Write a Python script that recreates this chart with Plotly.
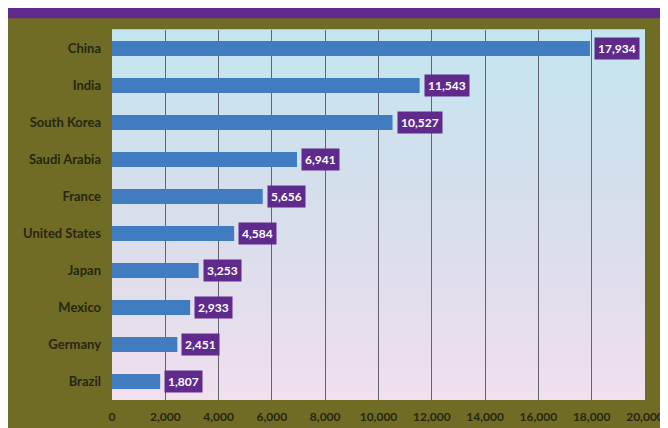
import plotly.graph_objects as go

countries = ["China", "India", "South Korea", "Saudi Arabia", "France",
             "United States", "Japan", "Mexico", "Germany", "Brazil"]
values = [17934, 11543, 10527, 6941, 5656, 4584, 3253, 2933, 2451, 1807]
tick_vals = [0, 2000, 4000, 6000, 8000, 10000, 12000, 14000, 16000, 18000, 20000]
tick_text = ["0", "2,000", "4,000", "6,000", "8,000", "10,000", "12,000",
             "14,000", "16,000", "18,000", "20,000"]

OLIVE = "rgb(112,108,38)"
PURPLE = "rgb(96,42,140)"
BAR = "rgb(66,124,192)"
FONT = "Lato, Open Sans, sans-serif"

fig = go.Figure()
fig.add_trace(go.Bar(
    x=values, y=countries, orientation="h",
    marker=dict(color=BAR, line=dict(width=0)),
    width=0.4, hoverinfo="skip",
))

# vertical gradient background for the plot area
top = (196, 230, 240)
mid = (216, 222, 236)
bot = (240, 224, 238)
n = 40
shapes = []
for i in range(n):
    t = i / (n - 1)
    if t < 0.5:
        a, b, u = top, mid, t / 0.5
    else:
        a, b, u = mid, bot, (t - 0.5) / 0.5
    c = tuple(int(a[k] + (b[k] - a[k]) * u) for k in range(3))
    shapes.append(dict(
        type="rect", xref="x domain", yref="y domain",
        x0=0, x1=1, y0=1 - (i + 1) / n, y1=1 - i / n + 0.002,
        fillcolor="rgb(%d,%d,%d)" % c, line=dict(width=0), layer="below",
    ))
# purple strip at top
shapes.append(dict(type="rect", xref="paper", yref="paper",
                   x0=-1, x1=2, y0=1 + 12 / (428 - 22 - 25), y1=2,
                   fillcolor=PURPLE, line=dict(width=0), layer="below"))

annotations = []
for c, v in zip(countries, values):
    annotations.append(dict(
        x=v, y=c, xref="x", yref="y", text="<b>%s</b>" % f"{v:,}",
        showarrow=False, xanchor="left", xshift=4,
        font=dict(color="white", size=12, family=FONT),
        bgcolor=PURPLE, borderpad=3,
    ))

fig.update_layout(
    width=668, height=428,
    margin=dict(l=104, r=20, t=22, b=25),
    paper_bgcolor=OLIVE,
    plot_bgcolor="rgb(215,225,236)",
    showlegend=False,
    shapes=shapes,
    annotations=annotations,
    xaxis=dict(
        range=[0, 20000], tickvals=tick_vals, ticktext=tick_text,
        showgrid=True, gridcolor="rgb(100,100,110)", gridwidth=1,
        zeroline=False, showline=False, ticks="",
        ticklabelstandoff=8,
        tickfont=dict(size=12, color="rgb(40,38,20)", family=FONT, weight="bold"),
    ),
    yaxis=dict(
        autorange="reversed", showgrid=False, zeroline=False, showline=False,
        ticks="", ticklabelstandoff=10,
        tickfont=dict(size=13, color="rgb(40,38,20)", family=FONT, weight="bold"),
    ),
)

fig.write_html("out.html")
